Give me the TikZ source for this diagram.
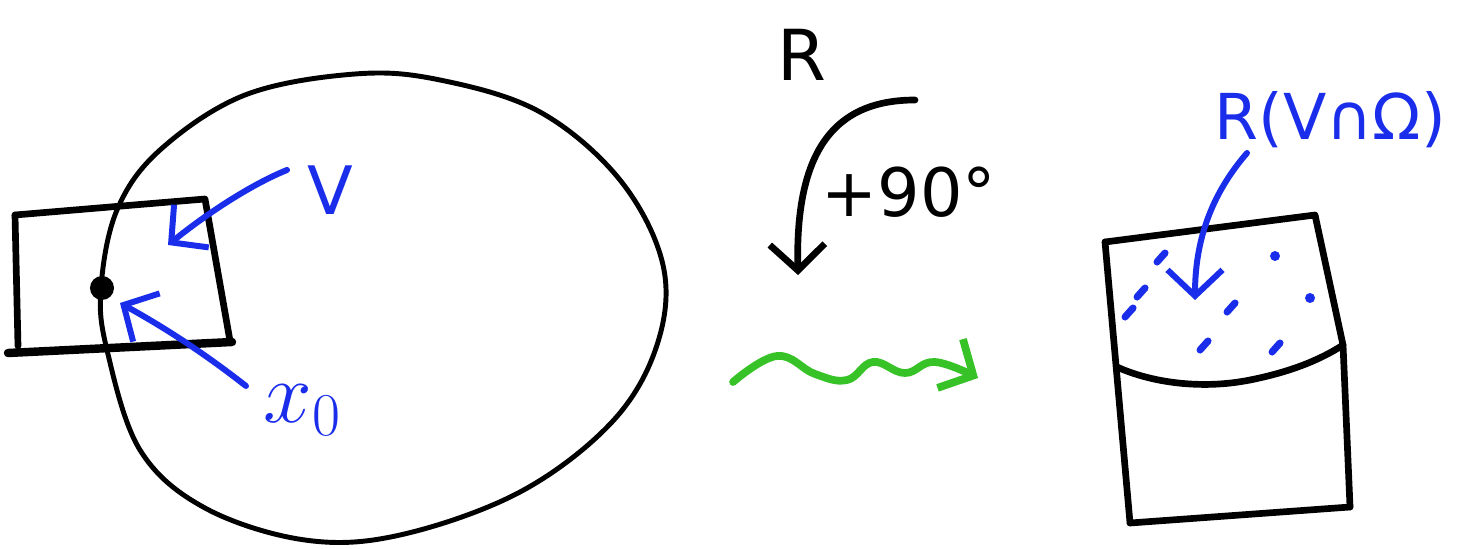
\documentclass[tikz,border=0pt]{standalone}
\usepackage{fontspec}
\setmainfont{DejaVu Sans}
\usetikzlibrary{arrows.meta}
\definecolor{MarkerBlue}{RGB}{25, 45, 235}
\definecolor{MarkerGreen}{RGB}{55, 195, 40}
\tikzset{
  pen/.style={line width=1.9pt, line cap=round, line join=round},
  bluepen/.style={MarkerBlue, line width=1.7pt, line cap=round, line join=round},
  barb/.style={-{Straight Barb[length=2.6mm, width=5.5mm]}},
  bluetext/.style={MarkerBlue, inner sep=0pt, font=\fontsize{19}{22}\selectfont},
  blacktext/.style={inner sep=0pt, font=\fontsize{20}{22}\selectfont},
}

\begin{document}
\begin{tikzpicture}[x=0.01cm, y=-0.01cm]
    \useasboundingbox (0,0) rectangle (1474,549);

    % Domain Omega
    \draw[pen, line width=1.4pt] plot[smooth cycle, tension=0.6] coordinates {
      (355,74) (440,80) (540,112) (620,180) (663,265) (657,345) (612,422)
      (520,492) (400,535) (305,540) (205,508) (140,450) (107,350) (101,288)
      (117,210) (160,150) (245,95)};

    % Box V around x_0
    \draw[pen] (15,215) -- (205,199) -- (230,341);
    \draw[pen] (15,215) -- (18,346);
    \draw[pen, line width=2.4pt] (8,353) -- (232,342);

    % Point x_0
    \coordinate (xzero) at (102,288);
    \fill (xzero) circle[radius=12];

    % Labels left
    \node[bluetext] (Vlabel) at (330,190) {V};
    \node[bluetext, font=\fontsize{24}{26}\selectfont] (xlabel) at (303,410) {$x_0$};

    \coordinate (Vtail) at (287,170);
    \coordinate (Vtip) at (168,245);
    \coordinate (xtail) at (246,386);
    \coordinate (xtip) at (120,303);
    \draw[bluepen, barb] (Vtail) .. controls (250,185) and (205,215) .. (Vtip);
    \draw[bluepen, barb] (xtail) .. controls (200,350) and (160,325) .. (xtip);

    % Rotation
    \node[blacktext] (Rlabel) at (802,55) {R};
    \node[blacktext, font=\fontsize{19}{22}\selectfont] (anglelabel) at (909,192) {+90°};
    \coordinate (rottail) at (915,100);
    \coordinate (rottip) at (798,275);
    \draw[pen, barb] (rottail) .. controls (835,100) and (795,150) .. (rottip);

    % Squiggly map
    \coordinate (mapstart) at (733,382);
    \coordinate (mapend) at (978,378);
    \draw[MarkerGreen, line width=2.2pt, line cap=round, barb] plot[smooth, tension=0.7] coordinates {
      (mapstart) (777,356) (815,374) (847,380) (873,362) (905,373) (935,362) (mapend)};

    % Rotated box
    \draw[pen] (1105,242) -- (1315,215) -- (1343,345) -- (1350,507);
    \draw[pen] (1105,242) -- (1130,523);
    \draw[pen] (1130,523) -- (1350,507);
    \draw[pen] (1117,367) .. controls (1150,382) and (1200,390) .. (1250,380)
      .. controls (1290,372) and (1320,360) .. (1343,345);

    % Image of V cap Omega
    \node[bluetext, font=\fontsize{18}{22}\selectfont] (imglabel) at (1330,120) {R(V∩Ω)};
    \coordinate (imgtail) at (1247,153);
    \coordinate (imgtip) at (1195,300);
    \draw[bluepen, barb] (imgtail) .. controls (1215,190) and (1195,235) .. (imgtip);

    % Dashes
    \foreach \a/\b in {1157/262, 1137/297, 1125/317, 1227/312, 1200/350, 1272/352}
      \draw[bluepen, line width=2pt] (\a,\b) -- ++(8,-9);
    \foreach \a/\b in {1275/256, 1310/298}
      \fill[MarkerBlue] (\a,\b) circle[radius=5];
\end{tikzpicture}
\end{document}
